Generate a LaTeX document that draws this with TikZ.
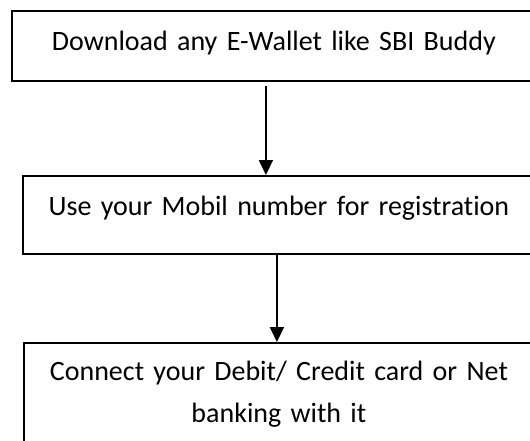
\documentclass[tikz,border=0pt]{standalone}
\usepackage{fontspec}
\setmainfont[Ligatures=NoCommon]{Carlito}
\usetikzlibrary{arrows.meta}
\newcommand\boxfont{\fontsize{28}{42}\selectfont}
\tikzset{
  stepbox/.style={draw, line width=1.8pt, anchor=north west, inner sep=0pt, align=center, font=\boxfont},
  flowarrow/.style={-{Triangle[length=15pt,width=14pt]}, line width=1.8pt}
}
\begin{document}
\begin{tikzpicture}[x=1pt,y=-1pt]
\useasboundingbox (0,0) rectangle (530,440);
\node[stepbox, text width=524pt, text height=40pt, text depth=30pt] (dl) at (11,10) {Download any E-Wallet like SBI Buddy};
\node[stepbox, text width=512pt, text height=40pt, text depth=38pt] (reg) at (22,175) {Use your Mobil number for registration};
\node[stepbox, text width=510pt, text height=38pt, text depth=80pt] (link) at (23,342) {Connect your Debit/ Credit card or Net\\banking with it};
\draw[flowarrow] ([xshift=-8pt,yshift=-4pt]dl.south) -- ([xshift=-8pt]dl.south |- reg.north);
\draw[flowarrow] ([xshift=-2pt]reg.south) -- ([xshift=-2pt]reg.south |- link.north);
\end{tikzpicture}
\end{document}
